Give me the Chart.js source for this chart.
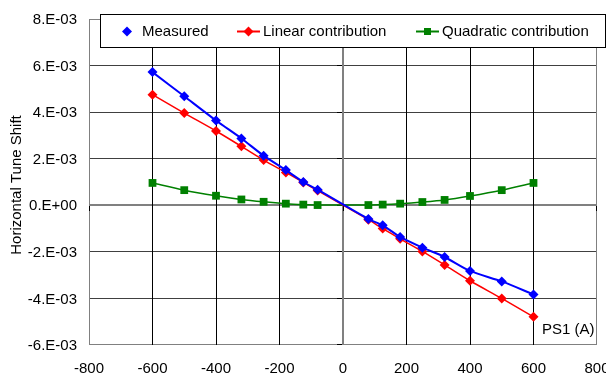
<!DOCTYPE html>
<html><head><meta charset="utf-8">
<script src="https://cdn.jsdelivr.net/npm/chart.js@4"></script>
<style>html,body{margin:0;padding:0;background:#fff;overflow:hidden}canvas{display:block}</style>
</head><body>
<canvas id="c" width="606" height="380"></canvas>
<script>
const currentsA = [-600, -500, -400, -320, -250, -180, -125, -80, 80, 125, 180, 250, 320, 400, 500, 600];
const measured = [5.72e-3, 4.68e-3, 3.64e-3, 2.87e-3, 2.13e-3, 1.51e-3, 1.00e-3, 0.67e-3, -0.59e-3, -0.86e-3, -1.36e-3, -1.82e-3, -2.22e-3, -2.82e-3, -3.27e-3, -3.83e-3];
const linearContribution = [4.75e-3, 3.96e-3, 3.19e-3, 2.53e-3, 1.94e-3, 1.41e-3, 0.98e-3, 0.63e-3, -0.62e-3, -1.00e-3, -1.44e-3, -1.98e-3, -2.56e-3, -3.24e-3, -4.00e-3, -4.79e-3];
const quadraticContribution = [0.96e-3, 0.65e-3, 0.41e-3, 0.25e-3, 0.15e-3, 0.07e-3, 0.03e-3, 0.01e-3, 0.01e-3, 0.03e-3, 0.07e-3, 0.14e-3, 0.23e-3, 0.40e-3, 0.65e-3, 0.96e-3];
const seriesNames = ['Measured', 'Linear contribution', 'Quadratic contribution'];
const yTickLabels = ['-6.E-03', '-4.E-03', '-2.E-03', '0.E+00', '2.E-03', '4.E-03', '6.E-03', '8.E-03'];
const xAxisTitle = 'PS1 (A)';
const yAxisTitle = 'Horizontal Tune Shift';

const FONT = "'Liberation Sans', Arial, sans-serif";
const COLORS = ['#0000ff', '#ff0000', '#008000'];

function pts(ys) { return currentsA.map((x, i) => ({ x: x, y: ys[i] })); }

function diamond(ctx, x, y, r, color) {
  ctx.beginPath();
  ctx.moveTo(x, y - r); ctx.lineTo(x + r, y); ctx.lineTo(x, y + r); ctx.lineTo(x - r, y);
  ctx.closePath(); ctx.fillStyle = color; ctx.fill();
}

const overlay = {
  id: 'overlay',
  beforeDatasetsDraw(chart) {
    const ctx = chart.ctx, xs = chart.scales.x, ys = chart.scales.y, a = chart.chartArea;
    const L = Math.round(a.left), R = Math.round(a.right), T = Math.round(a.top), B = Math.round(a.bottom);
    const x0 = Math.floor(xs.getPixelForValue(0)), y0 = Math.floor(ys.getPixelForValue(0));
    ctx.save();
    ys.ticks.forEach((t, i) => {
      const edge = i === 0 || i === ys.ticks.length - 1;
      const zero = Math.abs(t.value) < 1e-12;
      const py = Math.min(Math.floor(ys.getPixelForValue(t.value)), B - 1);
      ctx.strokeStyle = (edge || zero) ? '#808080' : '#404040';
      ctx.lineWidth = zero ? 2 : 1;
      ctx.beginPath();
      if (zero) { ctx.moveTo(L, py); ctx.lineTo(R, py); } else { ctx.moveTo(L, py + 0.5); ctx.lineTo(R, py + 0.5); }
      ctx.stroke();
    });
    xs.ticks.forEach((t, i) => {
      const edge = i === 0 || i === xs.ticks.length - 1;
      const zero = t.value === 0;
      const px = Math.min(Math.floor(xs.getPixelForValue(t.value)), R - 1);
      ctx.strokeStyle = (edge || zero) ? '#808080' : '#000000';
      ctx.lineWidth = zero ? 2 : 1;
      ctx.beginPath();
      if (zero) { ctx.moveTo(px, T); ctx.lineTo(px, B); } else { ctx.moveTo(px + 0.5, T); ctx.lineTo(px + 0.5, B); }
      ctx.stroke();
    });
    ctx.strokeStyle = '#000'; ctx.lineWidth = 1; ctx.beginPath();
    ys.ticks.forEach(t => { const py = Math.min(Math.floor(ys.getPixelForValue(t.value)), B - 1) + 0.5; ctx.moveTo(x0 - 6, py); ctx.lineTo(x0 - 1, py); });
    xs.ticks.forEach(t => { const px = Math.min(Math.floor(xs.getPixelForValue(t.value)), R - 1) + 0.5; ctx.moveTo(px, y0 + 1); ctx.lineTo(px, y0 + 6); });
    ctx.stroke();
    // tick labels, placed from the library's scales
    ctx.fillStyle = '#000'; ctx.font = '15px ' + FONT; ctx.textBaseline = 'middle';
    ctx.textAlign = 'right';
    ys.ticks.forEach((t, i) => { ctx.fillText(yTickLabels[i], L - 12, ys.getPixelForValue(t.value) + 1); });
    ctx.textAlign = 'center';
    xs.ticks.forEach(t => { ctx.fillText(String(t.value), xs.getPixelForValue(t.value), B + 24); });
    ctx.restore();
  },
  afterDraw(chart) {
    const ctx = chart.ctx;
    ctx.save();
    ctx.fillStyle = '#fff'; ctx.fillRect(100.5, 14.5, 505, 33);
    ctx.strokeStyle = '#000'; ctx.lineWidth = 1; ctx.strokeRect(100.5, 14.5, 505, 33);
    const ly = 31.5;
    ctx.font = '15px ' + FONT; ctx.fillStyle = '#000'; ctx.textBaseline = 'middle'; ctx.textAlign = 'left';
    diamond(ctx, 127, ly, 5, COLORS[0]);
    ctx.fillStyle = '#000'; ctx.fillText(seriesNames[0], 142, ly);
    ctx.strokeStyle = COLORS[1]; ctx.lineWidth = 2; ctx.beginPath(); ctx.moveTo(237, ly); ctx.lineTo(260, ly); ctx.stroke();
    diamond(ctx, 248.5, ly, 5, COLORS[1]);
    ctx.fillStyle = '#000'; ctx.fillText(seriesNames[1], 263, ly);
    ctx.strokeStyle = COLORS[2]; ctx.lineWidth = 2; ctx.beginPath(); ctx.moveTo(416, ly); ctx.lineTo(439, ly); ctx.stroke();
    ctx.fillStyle = COLORS[2]; ctx.fillRect(424, ly - 3.5, 7, 7);
    ctx.fillStyle = '#000'; ctx.fillText(seriesNames[2], 442, ly);
    ctx.fillText(xAxisTitle, 542, 330);
    ctx.translate(17, 185); ctx.rotate(-Math.PI / 2);
    ctx.textAlign = 'center'; ctx.font = '15px ' + FONT;
    ctx.fillText(yAxisTitle, 0, 0);
    ctx.restore();
  }
};

const chart = new Chart(document.getElementById('c'), {
  type: 'line',
  data: {
    datasets: [
      { label: seriesNames[0], data: pts(measured), borderColor: COLORS[0], backgroundColor: COLORS[0], borderWidth: 2,
        pointStyle: 'rectRot', pointRadius: 5, pointBorderWidth: 0, tension: 0.25 },
      { label: seriesNames[1], data: pts(linearContribution), borderColor: COLORS[1], backgroundColor: COLORS[1], borderWidth: 1.5,
        pointStyle: 'rectRot', pointRadius: 5, pointBorderWidth: 0, tension: 0.25 },
      { label: seriesNames[2], data: pts(quadraticContribution), borderColor: COLORS[2], backgroundColor: COLORS[2], borderWidth: 1.5,
        pointStyle: 'rect', pointRadius: 5.5, pointBorderWidth: 0, tension: 0.25 }
    ]
  },
  options: {
    responsive: false, animation: false, devicePixelRatio: 1,
    layout: { padding: { top: 19, right: 9, bottom: 35, left: 89 } },
    plugins: { legend: { display: false }, tooltip: { enabled: false } },
    scales: {
      x: {
        type: 'linear', min: -800, max: 800,
        ticks: { stepSize: 200, display: false },
        grid: { display: false, tickLength: 0 },
        border: { display: false }
      },
      y: {
        type: 'linear', min: -6e-3, max: 8e-3,
        ticks: { stepSize: 2e-3, display: false },
        grid: { display: false, tickLength: 0 },
        border: { display: false }
      }
    }
  },
  plugins: [overlay]
});

// correct any residual offset so the plot area lands where the reference has it
for (let k = 0; k < 3; k++) {
  const a = chart.chartArea, p = chart.config.options.layout.padding;
  p.left += 89 - a.left;
  p.top += 19 - a.top;
  p.right += a.right - 597;
  p.bottom += a.bottom - 345;
  chart.update();
}
</script>
</body></html>
